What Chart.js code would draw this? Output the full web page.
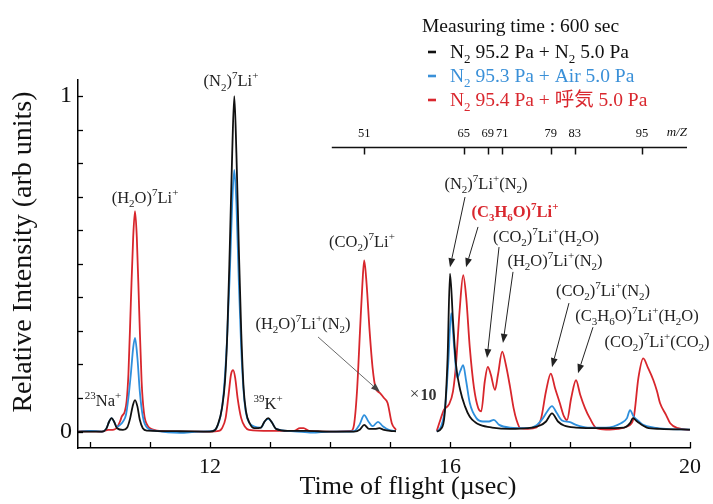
<!DOCTYPE html>
<html><head><meta charset="utf-8">
<script src="https://cdn.jsdelivr.net/npm/chart.js@4"></script>
<style>html,body{margin:0;padding:0;background:#fff}</style>
</head><body>
<canvas id="c" width="713" height="504"></canvas>
<script>
// ---- data (time of flight in µs, relative intensity) ----
const seriesNames = ['N_2 95.2 Pa + N_2 5.0 Pa', 'N_2 95.3 Pa + Air 5.0 Pa', 'N_2 95.4 Pa + 呼気 5.0 Pa'];
const blackTrace = [[9.8,0],[10.0,0],[10.2,0],[10.27,0.008],[10.32,0.03],[10.36,0.04],[10.4,0.03],[10.45,0.01],[10.55,0.005],[10.62,0.012],[10.67,0.04],[10.71,0.075],[10.75,0.094],[10.79,0.075],[10.83,0.035],[10.88,0.01],[10.95,0.003],[11.5,0.001],[12.0,0],[12.08,0.004],[12.13,0.02],[12.2,0.07],[12.25,0.15],[12.29,0.3],[12.33,0.55],[12.37,0.83],[12.405,1.0],[12.44,0.83],[12.48,0.55],[12.52,0.3],[12.56,0.13],[12.6,0.06],[12.66,0.025],[12.74,0.01],[12.85,0.012],[12.91,0.03],[12.97,0.04],[13.03,0.028],[13.1,0.008],[13.3,0.002],[13.6,0.002],[14.0,0],[14.4,0],[14.5,0.006],[14.57,0.02],[14.65,0.008],[14.75,0.008],[14.82,0.01],[14.9,0.005],[15.0,0.002],[15.1,0.001],[15.4,null],[15.78,0],[15.85,0.008],[15.91,0.05],[15.96,0.22],[16.0,0.471],[16.05,0.33],[16.1,0.2],[16.17,0.124],[16.25,0.075],[16.33,0.044],[16.42,0.028],[16.5,0.02],[16.7,0.012],[17.0,0.008],[17.3,0.01],[17.5,0.018],[17.6,0.03],[17.7,0.054],[17.8,0.03],[17.9,0.018],[18.1,0.012],[18.5,0.01],[18.9,0.012],[19.0,0.025],[19.05,0.04],[19.12,0.03],[19.28,0.012],[19.5,0.008],[20.0,0.006]];
const blueTrace = [[9.8,0],[10.0,0.002],[10.2,0],[10.27,0.008],[10.32,0.03],[10.36,0.04],[10.4,0.03],[10.45,0.014],[10.5,0.02],[10.55,0.03],[10.6,0.05],[10.64,0.1],[10.68,0.17],[10.72,0.25],[10.75,0.279],[10.79,0.22],[10.83,0.12],[10.88,0.045],[10.95,0.012],[11.1,0.002],[11.5,-0.004],[11.8,0],[12.05,0.002],[12.12,0.015],[12.18,0.05],[12.23,0.12],[12.28,0.26],[12.33,0.47],[12.37,0.68],[12.405,0.78],[12.44,0.68],[12.48,0.45],[12.52,0.25],[12.56,0.12],[12.6,0.055],[12.66,0.025],[12.74,0.015],[12.85,0.012],[12.91,0.03],[12.97,0.038],[13.03,0.028],[13.1,0.008],[13.4,0.001],[13.7,-0.003],[14.0,0],[14.4,0.001],[14.49,0.02],[14.57,0.049],[14.64,0.03],[14.71,0.016],[14.8,0.029],[14.88,0.016],[14.98,0.005],[15.1,0.001],[15.4,null],[15.78,0],[15.85,0.015],[15.92,0.074],[15.97,0.2],[16.02,0.353],[16.07,0.25],[16.12,0.16],[16.17,0.18],[16.22,0.198],[16.27,0.15],[16.33,0.085],[16.44,0.04],[16.55,0.03],[16.65,0.03],[16.73,0.035],[16.82,0.02],[17.0,0.012],[17.3,0.01],[17.45,0.02],[17.55,0.04],[17.62,0.06],[17.7,0.076],[17.78,0.055],[17.86,0.034],[18.0,0.028],[18.1,0.02],[18.3,0.012],[18.6,0.012],[18.85,0.025],[18.95,0.04],[19.0,0.064],[19.06,0.045],[19.15,0.03],[19.22,0.02],[19.4,0.012],[19.6,0.008],[20.0,0.006]];
const redTrace = [[9.8,0],[10.0,0.001],[10.2,0],[10.3,0.005],[10.4,0.006],[10.45,0.012],[10.5,0.03],[10.53,0.045],[10.58,0.06],[10.61,0.09],[10.64,0.17],[10.68,0.38],[10.72,0.58],[10.75,0.657],[10.78,0.58],[10.82,0.36],[10.86,0.15],[10.9,0.055],[10.96,0.018],[11.05,0.006],[11.2,0.001],[11.6,0],[12.0,0],[12.15,0.002],[12.2,0.01],[12.26,0.04],[12.31,0.11],[12.35,0.17],[12.385,0.183],[12.42,0.16],[12.46,0.1],[12.52,0.04],[12.58,0.015],[12.65,0.005],[13.0,0.002],[13.4,0.002],[13.5,0.01],[13.56,0.01],[13.65,0.002],[14.0,0],[14.35,0.002],[14.4,0.02],[14.45,0.12],[14.5,0.3],[14.54,0.44],[14.57,0.51],[14.61,0.44],[14.66,0.3],[14.71,0.19],[14.76,0.13],[14.83,0.115],[14.9,0.1],[14.96,0.085],[15.03,0.025],[15.1,0.005],[15.4,null],[15.78,0.002],[15.83,0.03],[15.9,0.065],[15.98,0.08],[16.05,0.12],[16.1,0.2],[16.16,0.36],[16.22,0.466],[16.27,0.4],[16.33,0.25],[16.4,0.13],[16.47,0.07],[16.52,0.06],[16.58,0.15],[16.63,0.193],[16.68,0.17],[16.75,0.124],[16.8,0.17],[16.87,0.238],[16.93,0.2],[17.0,0.134],[17.06,0.07],[17.11,0.034],[17.17,0.01],[17.3,0.008],[17.44,0.012],[17.52,0.04],[17.6,0.12],[17.68,0.173],[17.75,0.13],[17.83,0.085],[17.9,0.045],[17.95,0.034],[18.02,0.1],[18.1,0.153],[18.17,0.11],[18.25,0.07],[18.33,0.04],[18.44,0.01],[18.6,0.006],[18.8,0.008],[18.95,0.015],[19.06,0.04],[19.14,0.16],[19.22,0.218],[19.3,0.19],[19.39,0.153],[19.45,0.12],[19.5,0.085],[19.6,0.05],[19.67,0.025],[19.8,0.01],[20.0,0.005]];
const xTickValues = [10,11,12,13,14,15,16,17,18,19,20];
const xTickLabels = [12,16,20];
const yTickValues = [0,0.1,0.2,0.3,0.4,0.5,0.6,0.7,0.8,0.9,1.0];
const yTickLabels = [0,1];
const mzLabels = ['51','65','69','71','79','83','95'];
const mzTimes = [14.57,16.23,16.63,16.87,17.68,18.08,19.2];

// ---- drawing helpers ----
const SERIF = '"Liberation Serif", "Noto Sans CJK JP", serif';
function parseRich(s){const out=[];for(let i=0;i<s.length;i++){const c=s[i];if((c==='_'||c==='^')&&i+1<s.length){out.push({t:s[i+1],m:c});i++;}else{const l=out[out.length-1];if(l&&l.m===''){l.t+=c;}else out.push({t:c,m:''});}}return out;}
function drawRich(ctx,s,cx,cy,size,color,opt){
  opt=opt||{};const segs=parseRich(s);const b=opt.bold?'bold ':'';const it=opt.italic?'italic ':'';
  const small=Math.round(size*0.66);let total=0;
  segs.forEach(g=>{ctx.font=it+b+(g.m?small:size)+'px '+SERIF;g.w=ctx.measureText(g.t).width;total+=g.w;});
  let x0=opt.align==='left'?cx:cx-total/2;const base=cy+size*0.34;
  ctx.fillStyle=color;ctx.textAlign='left';ctx.textBaseline='alphabetic';
  segs.forEach(g=>{ctx.font=it+b+(g.m?small:size)+'px '+SERIF;const dy=g.m==='_'?size*0.28:(g.m==='^'?-size*0.42:0);ctx.fillText(g.t,x0,base+dy);x0+=g.w;});
}
function line(ctx,x1,y1,x2,y2){ctx.beginPath();ctx.moveTo(x1,y1);ctx.lineTo(x2,y2);ctx.stroke();}
function arrow(ctx,x1,y1,x2,y2,head,color,w){
  ctx.strokeStyle=color;ctx.fillStyle=color;ctx.lineWidth=w;
  const ang=Math.atan2(y2-y1,x2-x1);const bx=x2-head*Math.cos(ang),by=y2-head*Math.sin(ang);
  line(ctx,x1,y1,bx,by);
  ctx.beginPath();ctx.moveTo(x2,y2);
  ctx.lineTo(bx+head*0.38*Math.sin(ang),by-head*0.38*Math.cos(ang));
  ctx.lineTo(bx-head*0.38*Math.sin(ang),by+head*0.38*Math.cos(ang));ctx.closePath();ctx.fill();
}

const deco = {
  id:'deco',
  afterDraw(chart){
    const ctx=chart.ctx,a=chart.chartArea,xs=chart.scales.x,ys=chart.scales.y;
    const X=t=>xs.getPixelForValue(t),Y=v=>ys.getPixelForValue(v);
    ctx.save();
    // inward ticks
    ctx.strokeStyle='#000';ctx.lineWidth=1.3;
    xTickValues.forEach(t=>{const p=Math.round(X(t))+0.5;line(ctx,p,a.bottom,p,a.bottom-6);});
    yTickValues.forEach(v=>{const p=Math.round(Y(v))+0.5;line(ctx,a.left,p,a.left+5,p);});
    // m/z axis
    const my=Math.round(Y(0.848))+0.5;
    ctx.strokeStyle='#111';ctx.lineWidth=1.5;
    line(ctx,X(14.03),my,X(19.95),my);
    mzTimes.forEach((t,i)=>{const p=Math.round(X(t))+0.5;ctx.strokeStyle='#111';ctx.lineWidth=1.5;line(ctx,p,my,p,my+7);drawRich(ctx,mzLabels[i],X(t),my-15,12.5,'#111');});
    drawRich(ctx,'m/Z',X(19.78),my-16,13,'#111',{italic:true});
    // annotations
    const notes=[
      ['(N_2)^7Li^+',12.35,1.046],['(H_2O)^7Li^+',10.917,0.699],['(CO_2)^7Li^+',14.533,0.568],
      ['(H_2O)^7Li^+(N_2)',13.55,0.323],['^2^3Na^+',10.217,0.094],['^3^9K^+',12.967,0.085],
      ['(N_2)^7Li^+(N_2)',16.6,0.741],['(CO_2)^7Li^+(H_2O)',17.6,0.583],['(H_2O)^7Li^+(N_2)',17.75,0.511],
      ['(CO_2)^7Li^+(N_2)',18.55,0.422],['(C_3H_6O)^7Li^+(H_2O)',19.117,0.347],['(CO_2)^7Li^+(CO_2)',19.45,0.27]
    ];
    notes.forEach(n=>drawRich(ctx,n[0],X(n[1]),Y(n[2]),16.5,'#222'));
    drawRich(ctx,'(C_3H_6O)^7Li^+',X(17.083),Y(0.657),16.5,'#d9272e',{bold:true});
    // ×10
    ctx.font='17px '+SERIF;ctx.fillStyle='#333';ctx.textAlign='left';ctx.textBaseline='middle';
    const tx=X(15.33),ty=Y(0.109);ctx.fillText('×',tx,ty);const wx=ctx.measureText('×').width;
    ctx.font='bold 16px '+SERIF;ctx.fillText('10',tx+wx+1,ty+1);
    // arrows
    const arr=[[16.25,0.699,16.0,0.49],[16.467,0.61,16.267,0.49],[16.817,0.55,16.617,0.219],[17.05,0.476,16.883,0.264],[17.983,0.383,17.7,0.192],[18.383,0.311,18.133,0.174]];
    arr.forEach(r=>arrow(ctx,X(r[0]),Y(r[1]),X(r[2]),Y(r[3]),9,'#222',1));
    arrow(ctx,X(13.8),Y(0.282),X(14.833),Y(0.118),9,'#444',0.8);
    // legend
    drawRich(ctx,'Measuring time : 600 sec',422,25,19.5,'#111',{align:'left'});
    const lc=['#111','#3a90d8','#d9272e'],ly=[51,75,99];
    seriesNames.forEach((s,i)=>{ctx.strokeStyle=lc[i];ctx.lineWidth=2.6;line(ctx,428,ly[i]+1,436,ly[i]+1);drawRich(ctx,s,450,ly[i],19.5,lc[i],{align:'left'});});
    // axis titles
    ctx.save();ctx.translate(24,252);ctx.rotate(-Math.PI/2);
    ctx.font='28px '+SERIF;ctx.fillStyle='#111';ctx.textAlign='center';ctx.textBaseline='middle';
    ctx.fillText('Relative Intensity (arb units)',0,0);ctx.restore();
    ctx.font='26px '+SERIF;ctx.fillStyle='#111';ctx.textAlign='center';ctx.textBaseline='middle';
    ctx.fillText('Time of flight (µsec)',408,487);
    ctx.restore();
  }
};

const toPts = tr => tr.map(p=>({x:p[0],y:p[1]}));
new Chart(document.getElementById('c'),{
  type:'line',
  data:{datasets:[
    {label:seriesNames[0],data:toPts(blackTrace),borderColor:'#111',borderWidth:1.8},
    {label:seriesNames[1],data:toPts(blueTrace),borderColor:'#2e8fdc',borderWidth:1.8},
    {label:seriesNames[2],data:toPts(redTrace),borderColor:'#d8262c',borderWidth:1.8}
  ]},
  options:{
    responsive:false,animation:false,devicePixelRatio:1,
    layout:{padding:{top:80,right:23,left:0,bottom:0}},
    elements:{point:{radius:0},line:{cubicInterpolationMode:'monotone'}},
    spanGaps:false,
    plugins:{legend:{display:false},tooltip:{enabled:false}},
    scales:{
      x:{type:'linear',min:9.8,max:20,
        afterFit(s){s.height=56;},
        afterBuildTicks(s){s.ticks=xTickValues.map(v=>({value:v}));},
        ticks:{autoSkip:false,maxRotation:0,padding:6,color:'#111',font:{family:SERIF,size:22},
          callback:v=>xTickLabels.includes(v)?String(v):''},
        grid:{display:true,drawOnChartArea:false,drawTicks:false},
        border:{display:true,color:'#000',width:1.5}},
      y:{type:'linear',min:-0.049,max:1.048,
        afterFit(s){s.width=78;},
        afterBuildTicks(s){s.ticks=yTickValues.map(v=>({value:v}));},
        ticks:{autoSkip:false,padding:6,color:'#111',font:{family:SERIF,size:24},
          callback:v=>yTickLabels.some(l=>Math.abs(l-v)<1e-9)?String(Math.round(v)):''},
        grid:{display:true,drawOnChartArea:false,drawTicks:false},
        border:{display:true,color:'#000',width:1.5}}
    }
  },
  plugins:[deco]
});
</script>
</body></html>
